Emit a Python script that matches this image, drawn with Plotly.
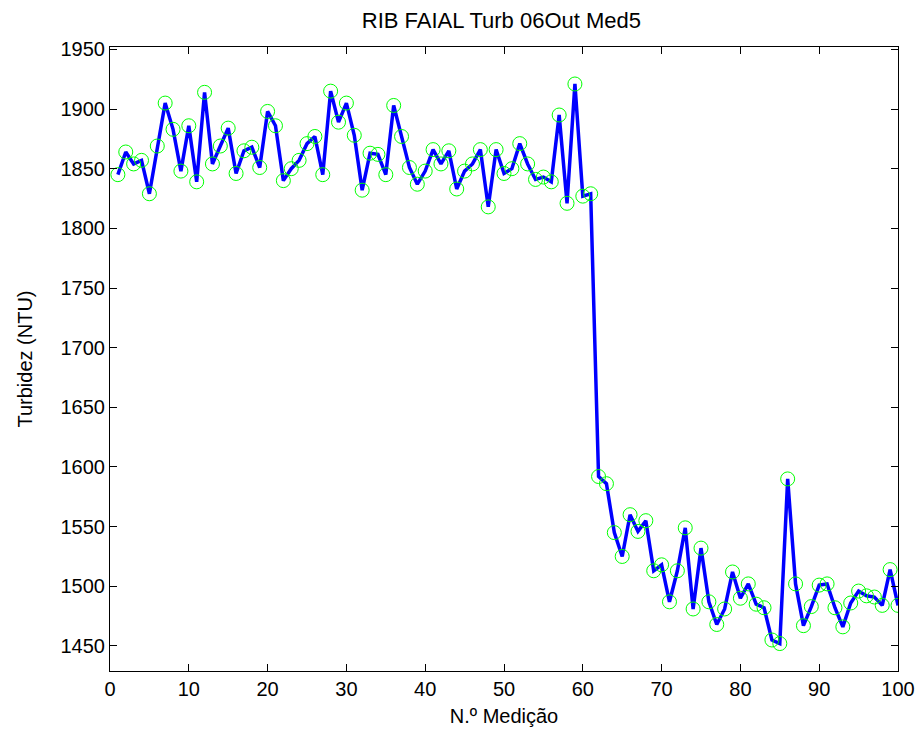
import plotly.graph_objects as go

medicao = list(range(1, 101))
turbidez = [
    1845, 1864, 1854, 1857, 1829, 1869, 1905, 1883, 1848, 1886,
    1839, 1914, 1854, 1869, 1884, 1846, 1865, 1868, 1851, 1898,
    1886, 1840, 1850, 1857, 1871, 1877, 1845, 1915, 1889, 1905,
    1878, 1832, 1863, 1862, 1845, 1903, 1877, 1851, 1837, 1848,
    1866, 1854, 1865, 1833, 1848, 1854, 1866, 1818, 1866, 1846,
    1850, 1871, 1854, 1841, 1843, 1839, 1895, 1821, 1921, 1827,
    1829, 1592, 1586, 1545, 1525, 1560, 1546, 1555, 1513, 1518,
    1487, 1513, 1549, 1481, 1532, 1487, 1468, 1481, 1512, 1490,
    1502, 1485, 1482, 1455, 1452, 1590, 1502, 1467, 1483, 1501,
    1502, 1482, 1466, 1486, 1496, 1492, 1491, 1484, 1514, 1484,
]
x_ticks = list(range(0, 101, 10))
y_ticks = list(range(1450, 1951, 50))

font = "Liberation Sans, Arial, sans-serif"

fig = go.Figure()
fig.add_trace(go.Scatter(
    x=medicao, y=turbidez, mode="lines",
    line=dict(color="#0000FF", width=3.5),
    showlegend=False, hoverinfo="skip",
))
fig.add_trace(go.Scatter(
    x=medicao, y=turbidez, mode="markers",
    marker=dict(symbol="circle-open", size=14, color="#00FF00",
                line=dict(color="#00FF00", width=1)),
    showlegend=False,
))

axis_common = dict(
    showline=True, linecolor="black", linewidth=1, mirror="ticks",
    ticks="inside", ticklen=7, tickcolor="black", tickwidth=1,
    showgrid=False, zeroline=False, automargin=False,
    tickfont=dict(family=font, size=20, color="black"),
)

fig.update_layout(
    width=920, height=737,
    margin=dict(l=110, r=22, t=47, b=66),
    paper_bgcolor="white", plot_bgcolor="white",
    title=dict(text="RIB FAIAL Turb 06Out Med5", x=0.545, xanchor="center",
               y=0.972, yanchor="middle",
               font=dict(family=font, size=22, color="black")),
    xaxis=dict(range=[0, 100], tickvals=x_ticks,
               title=dict(text="N.º Medição", standoff=9,
                          font=dict(family=font, size=20, color="black")),
               **axis_common),
    yaxis=dict(range=[1429, 1952], tickvals=y_ticks,
               title=dict(text="Turbidez (NTU)", standoff=22,
                          font=dict(family=font, size=20, color="black")),
               **axis_common),
)

fig.write_html("out.html")
